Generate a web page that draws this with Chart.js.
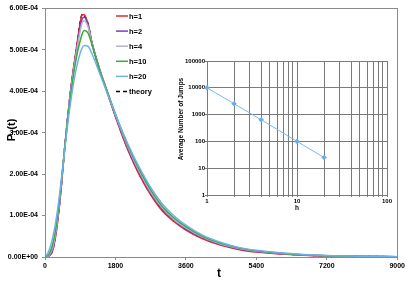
<!DOCTYPE html>
<html>
<head>
<meta charset="utf-8">
<script src="https://cdn.jsdelivr.net/npm/chart.js@4/dist/chart.umd.min.js"></script>
<style>
  html, body { margin: 0; padding: 0; background: #fff; }
  #wrap { position: relative; width: 407px; height: 281px; }
  #mainChart { position: absolute; left: 0; top: 0; }
  #insetChart { position: absolute; left: 165px; top: 52px; }
</style>
</head>
<body>
<div id="wrap">
  <canvas id="mainChart" width="407" height="281"></canvas>
  <canvas id="insetChart" width="235" height="168"></canvas>
</div>
<script>
// time points (t) shared by every curve
const tValues = [0, 100, 200, 300, 400, 500, 600, 700, 800, 900, 950, 1000, 1100, 1200, 1400, 1600, 1800,
  2000, 2200, 2400, 2700, 3000, 3300, 3600, 4000, 4500, 5000, 5400, 6000, 6600, 7200, 8000, 9000];

// P_T(t) in units of 1E-04
const pH1 = [0, 0.02, 0.17, 0.68, 1.53, 2.58, 3.55, 4.36, 5.02, 5.65, 5.84, 5.84, 5.62, 5.17, 4.5, 3.93, 3.38,
  2.86, 2.4, 2.0, 1.5, 1.11, 0.85, 0.65, 0.45, 0.28, 0.17, 0.12, 0.07, 0.04, 0.022, 0.01, 0.004];
const pH2 = [0, 0.03, 0.2, 0.72, 1.57, 2.6, 3.55, 4.33, 4.97, 5.55, 5.74, 5.78, 5.6, 5.17, 4.52, 3.96, 3.41,
  2.9, 2.44, 2.05, 1.54, 1.15, 0.88, 0.68, 0.48, 0.3, 0.19, 0.14, 0.085, 0.05, 0.03, 0.015, 0.007];
const pH4 = [0, 0.04, 0.24, 0.76, 1.6, 2.6, 3.53, 4.3, 4.92, 5.45, 5.65, 5.7, 5.55, 5.15, 4.52, 3.97, 3.43,
  2.93, 2.48, 2.08, 1.57, 1.18, 0.9, 0.7, 0.49, 0.31, 0.2, 0.145, 0.088, 0.052, 0.031, 0.016, 0.008];
const pH10 = [0, 0.07, 0.32, 0.85, 1.65, 2.6, 3.48, 4.2, 4.8, 5.22, 5.38, 5.46, 5.4, 5.12, 4.5, 3.97, 3.45,
  2.96, 2.52, 2.13, 1.62, 1.22, 0.94, 0.73, 0.51, 0.33, 0.21, 0.15, 0.09, 0.055, 0.033, 0.017, 0.008];
const pH20 = [0, 0.15, 0.48, 1.0, 1.72, 2.55, 3.35, 4.02, 4.55, 4.92, 5.04, 5.1, 5.08, 4.9, 4.42, 3.93, 3.44,
  2.98, 2.56, 2.18, 1.68, 1.28, 0.99, 0.77, 0.54, 0.35, 0.22, 0.16, 0.1, 0.06, 0.035, 0.018, 0.009];
const pTheory = [0, 0.02, 0.18, 0.7, 1.55, 2.6, 3.55, 4.35, 5.0, 5.68, 5.85, 5.83, 5.62, 5.15, 4.5, 3.95, 3.4,
  2.88, 2.42, 2.02, 1.52, 1.13, 0.87, 0.67, 0.47, 0.3, 0.19, 0.14, 0.085, 0.05, 0.03, 0.015, 0.007];

const yTickLabels = ['0.00E+00', '1.00E-04', '2.00E-04', '3.00E-04', '4.00E-04', '5.00E-04', '6.00E-04'];
const xTickLabels = ['0', '1800', '3600', '5400', '7200', '9000'];

// inset: average number of jumps vs h
const hValues = [1, 2, 4, 10, 20];
const avgJumps = [10000, 2550, 640, 100, 25];
const insetXTicks = [1, 2, 3, 4, 5, 6, 7, 8, 9, 10, 20, 30, 40, 50, 60, 70, 80, 90, 100];
const insetXLabels = ['1', '10', '100'];
const insetYTicks = [1, 10, 100, 1000, 10000, 100000];

const FONT = 'Liberation Sans';

function pts(arr) {
  return arr.map((v, i) => ({ x: tValues[i], y: v }));
}

function line(label, data, color, extra) {
  return Object.assign({
    label: label,
    data: pts(data),
    borderColor: color,
    backgroundColor: color,
    borderWidth: 1.5,
    pointRadius: 0,
    cubicInterpolationMode: 'monotone',
    fill: false,
  }, extra || {});
}

const mainDatasets = [
  line('h=20', pH20, '#6cb2ea'),
  line('h=10', pH10, '#3aa83a'),
  line('h=4', pH4, '#b4b4cc'),
  line('h=2', pH2, '#7b3fc4'),
  line('h=1', pH1, '#e8262c'),
  line('theory', pTheory, '#000000', { borderDash: [4, 3], borderWidth: 1.5 }),
];
const legendOrder = ['h=1', 'h=2', 'h=4', 'h=10', 'h=20', 'theory'];

const mainDecor = {
  id: 'mainDecor',
  afterDraw(chart) {
    const { ctx, chartArea } = chart;
    ctx.save();
    // frame
    ctx.strokeStyle = '#8a8a8a';
    ctx.lineWidth = 1;
    ctx.strokeRect(Math.round(chartArea.left) + 0.5, Math.round(chartArea.top) + 0.5,
      Math.round(chartArea.right - chartArea.left), Math.round(chartArea.bottom - chartArea.top));

    // x title
    ctx.fillStyle = '#000';
    ctx.font = 'bold 12px ' + FONT;
    ctx.textAlign = 'center';
    ctx.textBaseline = 'middle';
    ctx.fillText('t', (chartArea.left + chartArea.right) / 2 - 2, 274);

    // y title with subscript
    ctx.save();
    ctx.translate(12, 130);
    ctx.rotate(-Math.PI / 2);
    ctx.textAlign = 'left';
    const big = 'bold 11px ' + FONT;
    const small = 'bold 7px ' + FONT;
    ctx.font = big;
    const wP = ctx.measureText('P').width;
    ctx.font = small;
    const wT = ctx.measureText('T').width;
    ctx.font = big;
    const wR = ctx.measureText('(t)').width;
    let x = -(wP + wT + wR) / 2;
    ctx.fillText('P', x, 0);
    x += wP;
    ctx.font = small;
    ctx.fillText('T', x, 3);
    x += wT;
    ctx.font = big;
    ctx.fillText('(t)', x, 0);
    ctx.restore();

    // legend
    ctx.font = 'bold 7.5px ' + FONT;
    ctx.textAlign = 'left';
    ctx.textBaseline = 'middle';
    legendOrder.forEach((lab, i) => {
      const ds = chart.data.datasets.find(d => d.label === lab);
      const y = 16 + i * 15.1;
      ctx.strokeStyle = ds.borderColor;
      ctx.lineWidth = 1.5;
      ctx.setLineDash(ds.borderDash || []);
      ctx.beginPath();
      ctx.moveTo(116, y);
      ctx.lineTo(128, y);
      ctx.stroke();
      ctx.setLineDash([]);
      ctx.fillStyle = '#000';
      ctx.fillText(lab, 129, y + 0.5);
    });
    ctx.restore();
  },
};

new Chart(document.getElementById('mainChart'), {
  type: 'line',
  data: { datasets: mainDatasets },
  options: {
    responsive: false,
    animation: false,
    devicePixelRatio: 1,
    layout: { padding: { top: 3, right: 8, left: 0, bottom: 0 } },
    plugins: { legend: { display: false }, tooltip: { enabled: false } },
    scales: {
      x: {
        type: 'linear',
        min: 0,
        max: 9000,
        ticks: {
          stepSize: 1800,
          maxRotation: 0,
          padding: 2,
          color: '#000',
          font: { family: FONT, size: 7, weight: 'bold' },
          callback: (v) => xTickLabels[Math.round(v / 1800)],
        },
        grid: { drawOnChartArea: false, tickLength: 3, color: '#8a8a8a' },
        border: { color: '#8a8a8a' },
        afterFit: (s) => { s.height = 24; },
      },
      y: {
        min: 0,
        max: 6,
        ticks: {
          stepSize: 1,
          padding: 4,
          color: '#000',
          font: { family: FONT, size: 7, weight: 'bold' },
          callback: (v) => yTickLabels[Math.round(v)],
        },
        grid: { drawOnChartArea: false, tickLength: 3, color: '#8a8a8a' },
        border: { color: '#8a8a8a' },
        afterFit: (s) => { s.width = 45; },
      },
    },
  },
  plugins: [mainDecor],
});

const insetDecor = {
  id: 'insetDecor',
  afterDraw(chart) {
    const { ctx, chartArea } = chart;
    ctx.save();
    ctx.fillStyle = '#000';
    ctx.font = 'bold 6.5px ' + FONT;
    ctx.textAlign = 'center';
    ctx.textBaseline = 'middle';
    ctx.fillText('h', (chartArea.left + chartArea.right) / 2, 156);
    ctx.translate(16, 67);
    ctx.rotate(-Math.PI / 2);
    ctx.fillText('Average Number of Jumps', 0, 0);
    ctx.restore();
  },
};

new Chart(document.getElementById('insetChart'), {
  type: 'line',
  data: {
    datasets: [{
      label: 'Average Number of Jumps',
      data: hValues.map((h, i) => ({ x: h, y: avgJumps[i] })),
      borderColor: '#7ab8ea',
      backgroundColor: '#6aaee8',
      borderWidth: 1,
      pointStyle: 'rectRot',
      pointRadius: 2.8,
      pointBorderWidth: 0,
      clip: false,
    }],
  },
  options: {
    responsive: false,
    animation: false,
    devicePixelRatio: 1,
    layout: { padding: { top: 9, right: 13, left: 0, bottom: 0 } },
    plugins: { legend: { display: false }, tooltip: { enabled: false } },
    scales: {
      x: {
        type: 'logarithmic',
        min: 1,
        max: 100,
        afterBuildTicks: (s) => { s.ticks = insetXTicks.map(v => ({ value: v })); },
        ticks: {
          autoSkip: false,
          maxRotation: 0,
          padding: 1,
          color: '#000',
          font: { family: FONT, size: 6, weight: 'bold' },
          callback: (v) => insetXLabels.includes(String(v)) ? String(v) : '',
        },
        grid: { color: '#7a7a7a', lineWidth: 1, tickLength: 2 },
        border: { color: '#7a7a7a' },
        afterFit: (s) => { s.height = 25; },
      },
      y: {
        type: 'logarithmic',
        min: 1,
        max: 100000,
        afterBuildTicks: (s) => { s.ticks = insetYTicks.map(v => ({ value: v })); },
        ticks: {
          autoSkip: false,
          padding: 0,
          color: '#000',
          font: { family: FONT, size: 6, weight: 'bold' },
          callback: (v) => String(v),
        },
        grid: { color: '#7a7a7a', lineWidth: 1, tickLength: 2 },
        border: { color: '#7a7a7a' },
        afterFit: (s) => { s.width = 42; },
      },
    },
  },
  plugins: [insetDecor],
});
</script>
</body>
</html>
